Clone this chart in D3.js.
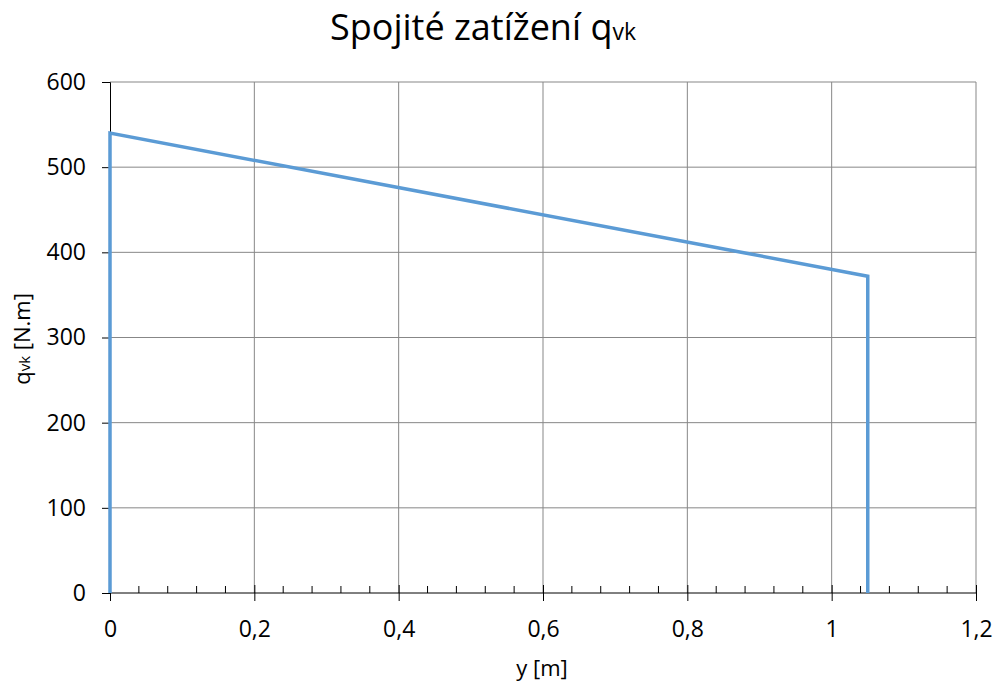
<!DOCTYPE html>
<html>
<head>
<meta charset="utf-8">
<script src="https://cdn.jsdelivr.net/npm/d3@7"></script>
<style>
  body { margin: 0; background: #fff; }
  text { font-family: "Open Sans", "Noto Sans", sans-serif; fill: #000; }
</style>
</head>
<body>
<script>
// chart data (y in m, q_vk in N.m)
var yPos = [0, 0, 1.05, 1.05];
var qVals = [0, 540, 372, 0];
var xTicks = [0, 0.2, 0.4, 0.6, 0.8, 1, 1.2];
var yTicks = [0, 100, 200, 300, 400, 500, 600];

var margin = {top: 82, right: 22, bottom: 91, left: 110};
var W = 998, H = 684;
var width = W - margin.left - margin.right;
var height = H - margin.top - margin.bottom;

var svg = d3.select("body").append("svg")
  .attr("width", W)
  .attr("height", H);

var chart = svg.append("g")
  .attr("transform", "translate(" + margin.left + "," + margin.top + ")");

var x = d3.scaleLinear().domain([0, 1.2]).range([0, width]);
var y = d3.scaleLinear().domain([0, 600]).range([height, 0]);

var fmt = function(d) { return String(d).replace(".", ","); };

// grid
chart.append("g").selectAll("line")
  .data(yTicks.slice(1)).enter()
  .append("line")
  .attr("x1", 0).attr("x2", width)
  .attr("y1", d => y(d)).attr("y2", d => y(d))
  .attr("stroke", "#878787").attr("stroke-width", 1);

chart.append("g").selectAll("line")
  .data(xTicks.slice(1)).enter()
  .append("line")
  .attr("x1", d => x(d)).attr("x2", d => x(d))
  .attr("y1", 0).attr("y2", height)
  .attr("stroke", "#878787").attr("stroke-width", 1);

// y axis
var yAxis = d3.axisLeft(y).tickValues(yTicks).tickSize(8).tickPadding(16).tickFormat(d3.format("d"));
var gy = chart.append("g").call(yAxis);
gy.select(".domain").attr("stroke", "#000");
gy.selectAll(".tick line").attr("stroke", "#000");
gy.selectAll(".tick text").style("font-size", "23px").attr("fill", "#000");

// x axis minor ticks (inside)
var minor = d3.range(0, 31).map(i => i * 0.04).filter((d, i) => i % 5 !== 0);
chart.append("g").selectAll("line")
  .data(minor).enter()
  .append("line")
  .attr("x1", d => x(d)).attr("x2", d => x(d))
  .attr("y1", height).attr("y2", height - 7)
  .attr("stroke", "#000");

// x axis major ticks (cross)
var xAxis = d3.axisBottom(x).tickValues(xTicks).tickSize(8).tickPadding(20).tickFormat(fmt);
var gx = chart.append("g").attr("transform", "translate(0," + height + ")").call(xAxis);
gx.select(".domain").attr("d", "M0,0H" + width).attr("stroke", "#000");
gx.selectAll(".tick line").attr("y1", -8).attr("stroke", "#000");
gx.selectAll(".tick text").style("font-size", "23px").attr("fill", "#000");

// series
var pts = yPos.map((d, i) => [d, qVals[i]]);
var line = d3.line().x(d => x(d[0])).y(d => y(d[1]));
chart.append("path")
  .datum(pts)
  .attr("d", line)
  .attr("fill", "none")
  .attr("stroke", "#5B9BD5")
  .attr("stroke-width", 3.5)
  .attr("stroke-linejoin", "miter");

// title
var title = svg.append("text")
  .attr("x", 483).attr("y", 40)
  .attr("text-anchor", "middle")
  .style("font-size", "36px");
title.append("tspan").text("Spojité zatížení q");
title.append("tspan").style("font-size", "23px").text("vk");

// axis titles
svg.append("text")
  .attr("x", 542).attr("y", 676)
  .attr("text-anchor", "middle")
  .style("font-size", "22px")
  .text("y [m]");

var yt = svg.append("text")
  .attr("transform", "translate(30,339) rotate(-90)")
  .attr("text-anchor", "middle")
  .style("font-size", "22px");
yt.append("tspan").text("q");
yt.append("tspan").style("font-size", "15px").text("vk");
yt.append("tspan").text(" [N.m]");
</script>
</body>
</html>
